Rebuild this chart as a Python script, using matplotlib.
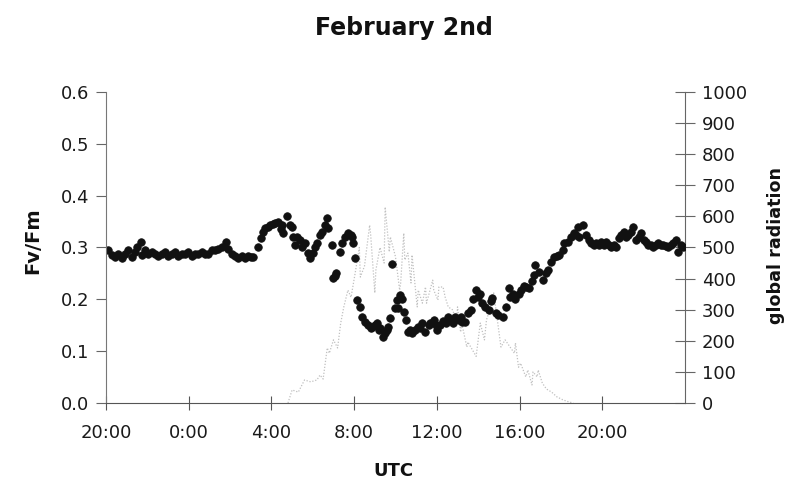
import matplotlib
matplotlib.use("Agg")
import matplotlib.pyplot as plt

# ---- data ----
# time axis: hours after 20:00 of the previous day
x_ticks = [0, 4, 8, 12, 16, 20, 24]
x_ticklabels = ["20:00", "0:00", "4:00", "8:00", "12:00", "16:00", "20:00"]
y_left_ticks = [0.0, 0.1, 0.2, 0.3, 0.4, 0.5, 0.6]
y_right_ticks = [0, 100, 200, 300, 400, 500, 600, 700, 800, 900, 1000]

fv_time = [
    0.10, 0.29, 0.44, 0.58, 0.77, 0.92, 1.06, 1.26, 1.40, 1.50,
    1.69, 1.74, 1.89, 2.03, 2.23, 2.37, 2.52, 2.71, 2.86, 3.00,
    3.20, 3.34, 3.49, 3.68, 3.83, 3.97, 4.17, 4.31, 4.45, 4.65,
    4.79, 4.94, 5.13, 5.28, 5.42, 5.62, 5.81, 5.91, 6.10, 6.25,
    6.39, 6.59, 6.73, 6.88, 7.02, 7.12, 7.36, 7.50, 7.60, 7.70,
    7.84, 7.94, 8.08, 8.18, 8.33, 8.45, 8.52, 8.57, 8.77, 8.91,
    9.00, 9.06, 9.15, 9.25, 9.39, 9.49, 9.64, 9.78, 9.88, 10.02,
    10.12, 10.22, 10.36, 10.46, 10.60, 10.70, 10.75, 10.94, 10.97, 11.08,
    11.14, 11.33, 11.43, 11.57, 11.72, 11.85, 11.91, 11.96, 12.06, 12.15,
    12.30, 12.40, 12.54, 12.69, 12.80, 12.88, 13.03, 13.12, 13.20, 13.27,
    13.41, 13.50, 13.61, 13.66, 13.75, 13.85, 14.00, 14.09, 14.14, 14.24,
    14.33, 14.43, 14.50, 14.62, 14.72, 14.82, 14.96, 15.10, 15.20, 15.30,
    15.45, 15.60, 15.69, 15.84, 15.95, 16.03, 16.17, 16.32, 16.42, 16.56,
    16.66, 16.76, 16.90, 17.05, 17.15, 17.24, 17.38, 17.53, 17.63, 17.77,
    17.87, 18.01, 18.10, 18.20, 18.35, 18.50, 18.60, 18.69, 18.84, 18.98,
    19.18, 19.32, 19.47, 19.56, 19.66, 19.80, 19.95, 20.05, 20.19, 20.29,
    20.44, 20.58, 20.68, 20.77, 20.92, 21.11, 21.26, 21.36, 21.50, 21.65,
    21.79, 21.89, 22.08, 22.13, 22.32, 22.47, 22.62, 22.71, 22.81, 22.86,
    23.05, 23.20, 23.34, 23.44, 23.58, 23.68, 23.83, 23.92, 24.07, 24.16,
    24.31, 24.41, 24.55, 24.65, 24.79, 24.89, 25.04, 25.13, 25.23, 25.38,
    25.47, 25.62, 25.76, 25.86, 26.00, 26.10, 26.20, 26.34, 26.44, 26.58,
    26.68, 26.83, 26.92, 27.07, 27.17, 27.31, 27.41, 27.55, 27.65, 27.80,
    27.90,
]
fv_fm = [
    .295, .286, .282, .288, .280, .288, .295, .282, .291, .301,
    .311, .286, .295, .288, .291, .288, .284, .288, .291, .284,
    .288, .291, .284, .288, .288, .291, .284, .288, .288, .291,
    .288, .288, .295, .295, .298, .301, .311, .298, .288, .284,
    .280, .284, .280, .284, .282, .282, .301, .318, .330, .338,
    .340, .344, .345, .347, .350, .335, .344, .328, .360, .344,
    .340, .320, .305, .320, .315, .300, .309, .290, .280, .290,
    .300, .309, .324, .330, .344, .357, .338, .305, .241, .245,
    .251, .291, .309, .320, .328, .325, .320, .309, .280, .198,
    .185, .166, .156, .150, .145, .147, .150, .154, .140, .145,
    .128, .135, .141, .147, .164, .268, .183, .199, .183, .208,
    .200, .175, .160, .137, .141, .135, .141, .147, .145, .154,
    .137, .150, .154, .160, .150, .141, .150, .158, .154, .166,
    .160, .154, .166, .160, .165, .156, .156, .174, .180, .200,
    .218, .205, .210, .193, .185, .180, .197, .203, .174, .170,
    .166, .185, .222, .205, .210, .200, .210, .218, .226, .224,
    .222, .235, .247, .266, .253, .237, .250, .257, .272, .282,
    .284, .286, .295, .309, .311, .320, .328, .325, .340, .320,
    .344, .324, .315, .309, .305, .309, .305, .311, .305, .311,
    .305, .300, .305, .301, .318, .325, .330, .320, .324, .330,
    .340, .315, .320, .328, .315, .310, .305, .305, .300, .305,
    .309, .305, .305, .302, .301, .305, .309, .315, .292, .305,
    .301,
]

rad_time = [
    8.80, 9.00, 9.30, 9.60, 9.90, 10.20, 10.35, 10.50, 10.70, 10.80,
    11.00, 11.20, 11.35, 11.50, 11.70, 11.85, 12.05, 12.25, 12.30, 12.50,
    12.75, 12.80, 13.00, 13.05, 13.25, 13.45, 13.50, 13.70, 13.75, 14.00,
    14.20, 14.25, 14.40, 14.45, 14.60, 14.75, 14.80, 15.05, 15.10, 15.30,
    15.45, 15.50, 15.80, 15.85, 16.05, 16.10, 16.30, 16.40, 16.55, 16.75,
    16.95, 17.00, 17.15, 17.20, 17.45, 17.50, 17.90, 18.10, 18.30, 18.40,
    18.70, 18.75, 19.10, 19.30, 19.75, 19.80, 19.95, 20.05, 20.30, 20.40,
    20.60, 20.65, 20.85, 20.90, 21.10, 21.30, 21.55, 21.80, 22.10, 22.40,
    22.60,
]
rad_val = [
    0, 42, 35, 74, 68, 74, 90, 77, 177, 160,
    203, 177, 257, 309, 363, 340, 418, 500, 405, 440,
    572, 540, 354, 427, 500, 450, 630, 486, 534, 470,
    363, 386, 546, 460, 482, 386, 476, 309, 363, 321,
    373, 321, 395, 363, 331, 373, 373, 341, 309, 300,
    267, 309, 228, 257, 180, 196, 150, 257, 203, 267,
    331, 354, 180, 203, 160, 193, 115, 128, 84, 106,
    58, 100, 84, 106, 64, 45, 35, 20, 10, 3,
    0,
]

# ---- figure ----
plt.rcParams['font.family'] = ['DejaVu Sans']
fig = plt.figure(figsize=(7.95, 4.9), dpi=100)
W, H = 795, 490
L, R, B, T = 106, 685, 403, 92
ax = fig.add_axes([L / W, 1 - B / H, (R - L) / W, (B - T) / H])
ax2 = ax.twinx()

ax2.plot(rad_time, rad_val, color='#c0c0c0', lw=0.9, linestyle=(0, (1, 1.4)))
ax2.set_ylim(0, 1000)
ax2.set_yticks(y_right_ticks)

ax.set_zorder(ax2.get_zorder() + 1)
ax.patch.set_visible(False)
ax.plot(fv_time, fv_fm, linestyle='none', marker='o', ms=5.4,
        mfc='#111111', mec='#111111', mew=0.6)
ax.set_xlim(0, 28)
ax.set_ylim(0, 0.6)
ax.set_xticks(x_ticks)
ax.set_xticklabels(x_ticklabels)
ax.set_yticks(y_left_ticks)
ax.set_yticklabels([f"{v:.1f}" for v in y_left_ticks])

for a in (ax, ax2):
    a.spines['top'].set_visible(False)
ax.spines['left'].set_color('#777777')
ax.spines['bottom'].set_color('#555555')
ax.spines['right'].set_visible(False)
ax2.spines['left'].set_visible(False)
ax2.spines['bottom'].set_visible(False)
ax2.spines['right'].set_color('#666666')

ax.tick_params(axis='y', direction='out', length=7, width=0.8, color='#666666',
               labelsize=13, labelcolor='#1a1a1a', pad=5)
ax.tick_params(axis='x', direction='inout', length=10, width=0.8, color='#555555',
               labelsize=13, labelcolor='#1a1a1a', pad=10)
ax2.tick_params(axis='y', direction='inout', length=14, width=0.8, color='#666666',
                labelsize=13, labelcolor='#1a1a1a', pad=5)

fig.text(404 / W, 1 - 28 / H, "February 2nd", ha='center', va='center',
         fontsize=17, fontweight='bold', color='#111111')
fig.text(33 / W, 1 - 241 / H, "Fv/Fm", ha='center', va='center', rotation=90,
         fontsize=14, fontweight='bold', color='#111111')
fig.text(776 / W, 1 - 245 / H, "global radiation", ha='center', va='center',
         rotation=90, fontsize=12.6, fontweight='bold', color='#111111')
fig.text(393 / W, 1 - 471 / H, "UTC", ha='center', va='center',
         fontsize=13, fontweight='bold', color='#111111')

fig.savefig("out.png", dpi=100)
